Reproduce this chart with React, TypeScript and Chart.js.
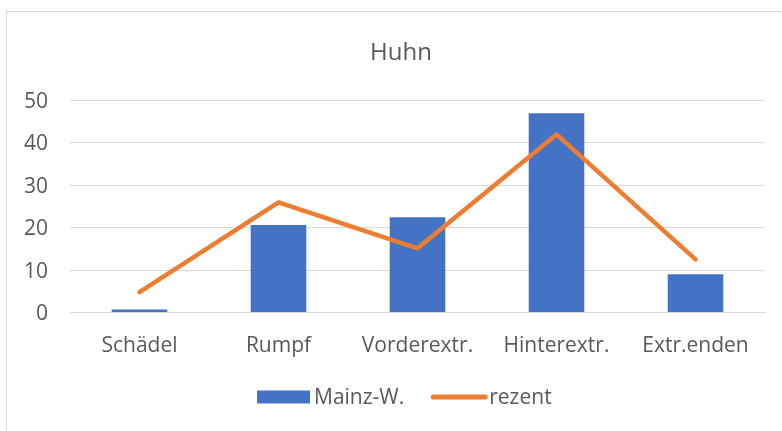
import React, { useEffect, useRef } from "react";
import { Chart, registerables } from "chart.js";

Chart.register(...registerables);

const categories = ["Schädel", "Rumpf", "Vorderextr.", "Hinterextr.", "Extr.enden"];
const mainzW = [0.7, 20.6, 22.4, 46.9, 9.0];
const rezent = [4.8, 25.9, 15.1, 41.9, 12.5];
const seriesNames = ["Mainz-W.", "rezent"];
const chartTitle = "Huhn";
const yTicks = { min: 0, max: 50, step: 10 };

const BLUE = "#4472c4";
const ORANGE = "#ed7d31";
const GREY_TEXT = "#595959";
const GRID = "#d9d9d9";
const FONT = "'Open Sans'";

const titleLegendPlugin = {
  id: "excelTitleLegend",
  afterDraw(chart: any) {
    const ctx = chart.ctx as CanvasRenderingContext2D;
    ctx.save();
    // title
    ctx.font = `24px ${FONT}`;
    ctx.fillStyle = GREY_TEXT;
    ctx.textAlign = "center";
    ctx.textBaseline = "alphabetic";
    ctx.fillText(chartTitle, 401, 60);

    // legend
    ctx.font = `21px ${FONT}`;
    ctx.textAlign = "left";
    const cy = 397;
    const baseline = 404;
    let x = 257;
    ctx.fillStyle = BLUE;
    ctx.fillRect(x, cy - 6.5, 53, 13);
    x += 53 + 4;
    ctx.fillStyle = GREY_TEXT;
    ctx.fillText(seriesNames[0], x, baseline);
    x += ctx.measureText(seriesNames[0]).width + 29;
    ctx.strokeStyle = ORANGE;
    ctx.lineWidth = 5;
    ctx.lineCap = "round";
    ctx.beginPath();
    ctx.moveTo(x, cy);
    ctx.lineTo(x + 52, cy);
    ctx.stroke();
    x += 52 + 4;
    ctx.fillStyle = GREY_TEXT;
    ctx.fillText(seriesNames[1], x, baseline);
    ctx.restore();
  },
};

export default function App() {
  const ref = useRef<HTMLCanvasElement | null>(null);

  useEffect(() => {
    if (!ref.current) return;
    const chart = new Chart(ref.current, {
      type: "bar",
      data: {
        labels: categories,
        datasets: [
          {
            type: "line",
            label: seriesNames[1],
            data: rezent,
            borderColor: ORANGE,
            backgroundColor: ORANGE,
            borderWidth: 4.5,
            pointRadius: 0,
            pointHoverRadius: 0,
            borderCapStyle: "round",
            borderJoinStyle: "round",
            tension: 0,
            fill: false,
            order: 0,
          } as any,
          {
            type: "bar",
            label: seriesNames[0],
            data: mainzW,
            backgroundColor: BLUE,
            borderWidth: 0,
            categoryPercentage: 0.8,
            barPercentage: 0.5,
            order: 1,
          } as any,
        ],
      },
      plugins: [titleLegendPlugin],
      options: {
        responsive: false,
        animation: false,
        devicePixelRatio: 1,
        layout: { padding: { left: 0, right: 17, top: 100, bottom: 0 } },
        plugins: {
          legend: { display: false },
          tooltip: { enabled: false },
          title: { display: false },
        },
        scales: {
          x: {
            grid: { display: false, drawTicks: false },
            border: { display: true, color: GRID, width: 1 },
            ticks: {
              color: GREY_TEXT,
              font: { family: FONT, size: 21 },
              padding: 21,
              maxRotation: 0,
              autoSkip: false,
            },
            afterFit(scale: any) {
              scale.height = 118.5;
            },
          },
          y: {
            min: yTicks.min,
            max: yTicks.max,
            grid: { color: GRID, lineWidth: 1, drawTicks: false },
            border: { display: false },
            ticks: {
              stepSize: yTicks.step,
              color: GREY_TEXT,
              font: { family: FONT, size: 21 },
              padding: 22,
              labelOffset: 2,
            },
            afterFit(scale: any) {
              scale.width = 70;
            },
          },
        },
      },
    });
    return () => chart.destroy();
  }, []);

  return (
    <div
      style={{
        position: "fixed",
        left: 0,
        top: 0,
        width: 782,
        height: 431,
        overflow: "hidden",
        background: "#fff",
      }}
    >
      <div
        style={{
          position: "absolute",
          left: 6,
          top: 11,
          width: 900,
          height: 600,
          border: `1px solid ${GRID}`,
          boxSizing: "border-box",
        }}
      />
      <canvas
        ref={ref}
        width={782}
        height={431}
        style={{ position: "absolute", left: 0, top: 0, width: 782, height: 431 }}
      />
    </div>
  );
}
